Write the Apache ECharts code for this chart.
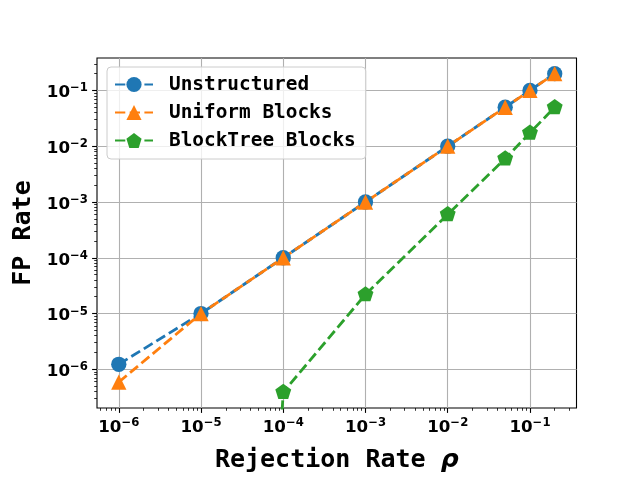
<!DOCTYPE html>
<html>
<head>
<meta charset="utf-8">
<script src="https://cdn.jsdelivr.net/npm/echarts@6/dist/echarts.min.js"></script>
<style>html,body{margin:0;padding:0;background:#fff;}#c{width:640px;height:480px;}</style>
</head>
<body>
<div id="c"></div>
<script>
// ---- data ----
const seriesNames = ['Unstructured', 'Uniform Blocks', 'BlockTree Blocks'];
const rhoUnstructured = [1e-6, 1e-5, 1e-4, 1e-3, 1e-2, 0.05, 0.1, 0.2];
const fpUnstructured  = [1.23e-6, 1e-5, 1e-4, 1e-3, 1e-2, 0.05, 0.1, 0.2];
const rhoUniform = [1e-6, 1e-5, 1e-4, 1e-3, 1e-2, 0.05, 0.1, 0.2];
const fpUniform  = [5.9e-7, 1e-5, 1e-4, 1e-3, 1e-2, 0.05, 0.1, 0.2];
const rhoBlockTree = [1e-6, 1e-5, 1e-4, 1e-3, 1e-2, 0.05, 0.1, 0.2];
const fpBlockTree  = [0, 0, 3.9e-7, 2.2e-5, 6.0e-4, 6.0e-3, 1.74e-2, 5.0e-2];
const xTickValues = [1e-6, 1e-5, 1e-4, 1e-3, 1e-2, 1e-1];
const yTickValues = [1e-6, 1e-5, 1e-4, 1e-3, 1e-2, 1e-1];
const xTitle = 'Rejection Rate ';
const xTitleSymbol = 'ρ';
const yTitle = 'FP Rate';

// ---- helpers ----
const colors = ['#1f77b4', '#ff7f0e', '#2ca02c'];
const xMin = Math.pow(10, -6.265), xMax = Math.pow(10, -0.434);
const yMin = Math.pow(10, -6.694), yMax = Math.pow(10, -0.418);
function pairs(xs, ys) {
  // non-positive values are clipped to a tiny value (like a log plot with nonpositive='clip')
  return xs.map((x, i) => [x, ys[i] > 0 ? ys[i] : 1e-30]);
}
function minorTicks(lo, hi) {
  const out = [];
  for (let e = -8; e <= 1; e++) {
    for (let k = 2; k <= 9; k++) {
      const v = k * Math.pow(10, e);
      if (v > lo && v < hi) out.push(v);
    }
  }
  return out;
}
function powLabel(v) {
  const e = Math.round(Math.log10(v));
  return '{b|10}{s|' + (e < 0 ? '\u2212' : '') + Math.abs(e) + '}';
}
const labelRich = {
  b: { fontFamily: 'DejaVu Sans', fontWeight: 'bold', fontSize: 16.7, color: '#000', lineHeight: 22, verticalAlign: 'bottom' },
  s: { fontFamily: 'DejaVu Sans', fontWeight: 'bold', fontSize: 11.7, color: '#000', lineHeight: 22, verticalAlign: 'bottom', padding: [0, 0, 7, 0] }
};
const mono = 'DejaVu Sans Mono';
const pentagon = 'path://M0,-1 L0.951,-0.309 L0.588,0.809 L-0.588,0.809 L-0.951,-0.309 Z';
const dash = [10.3, 4.4];

const chart = echarts.init(document.getElementById('c'), null, { renderer: 'canvas' });
const option = {
  animation: false,
  backgroundColor: '#fff',
  grid: { left: 97, top: 58, right: 63.5, bottom: 72, show: true, borderColor: '#000', borderWidth: 1.1, backgroundColor: 'transparent' },
  legend: {
    data: seriesNames,
    orient: 'vertical',
    left: 107, top: 67,
    itemWidth: 38, itemHeight: 19, itemGap: 9,
    padding: [8, 10, 9, 7],
    backgroundColor: 'rgba(255,255,255,0.8)',
    borderColor: '#cccccc', borderWidth: 1, borderRadius: 4,
    textStyle: { fontFamily: mono, fontWeight: 'bold', fontSize: 19.4, color: '#000', padding: [0, 0, 0, 11] }
  },
  xAxis: [{
    type: 'log', logBase: 10, min: xMin, max: xMax,
    name: xTitle + '{r|' + xTitleSymbol + '}', nameLocation: 'middle', nameGap: 40,
    nameTextStyle: { fontFamily: mono, fontWeight: 'bold', fontSize: 25, color: '#000',
      rich: { r: { fontFamily: 'DejaVu Sans', fontWeight: 'bold', fontStyle: 'italic', fontSize: 25, color: '#000' } } },
    axisLine: { show: false },
    axisTick: { show: true, length: 4.9, lineStyle: { color: '#000', width: 1.1 }, customValues: xTickValues },
    axisLabel: { customValues: xTickValues, formatter: powLabel, rich: labelRich, margin: 6 },
    splitLine: { show: true, lineStyle: { color: '#b0b0b0', width: 1.1 } },
    minorTick: { show: false }
  }, {
    type: 'log', logBase: 10, min: xMin, max: xMax, position: 'bottom',
    axisLine: { show: false },
    axisTick: { show: true, length: 2.8, lineStyle: { color: '#000', width: 0.8 }, customValues: minorTicks(xMin, xMax) },
    axisLabel: { show: false },
    splitLine: { show: false }
  }],
  yAxis: [{
    type: 'log', logBase: 10, min: yMin, max: yMax,
    name: yTitle, nameLocation: 'middle', nameGap: 57,
    nameTextStyle: { fontFamily: mono, fontWeight: 'bold', fontSize: 25, color: '#000' },
    axisLine: { show: false },
    axisTick: { show: true, length: 4.9, lineStyle: { color: '#000', width: 1.1 }, customValues: yTickValues },
    axisLabel: { customValues: yTickValues, formatter: powLabel, rich: labelRich, margin: 9 },
    splitLine: { show: true, lineStyle: { color: '#b0b0b0', width: 1.1 } }
  }, {
    type: 'log', logBase: 10, min: yMin, max: yMax, position: 'left',
    axisLine: { show: false },
    axisTick: { show: true, length: 2.8, lineStyle: { color: '#000', width: 0.8 }, customValues: minorTicks(yMin, yMax) },
    axisLabel: { show: false },
    splitLine: { show: false }
  }],
  series: [{
    name: seriesNames[0], type: 'line', data: pairs(rhoUnstructured, fpUnstructured),
    symbol: 'circle', symbolSize: 15.3, color: colors[0],
    itemStyle: { color: colors[0] },
    lineStyle: { color: colors[0], width: 2.8, type: dash }, clip: true
  }, {
    name: seriesNames[1], type: 'line', data: pairs(rhoUniform, fpUniform),
    symbol: 'triangle', symbolSize: 15.3, color: colors[1],
    itemStyle: { color: colors[1] },
    lineStyle: { color: colors[1], width: 2.8, type: dash }, clip: true
  }, {
    name: seriesNames[2], type: 'line', data: pairs(rhoBlockTree, fpBlockTree),
    symbol: pentagon, symbolSize: [15.9, 15.2], symbolOffset: [0, -0.7], color: colors[2],
    itemStyle: { color: colors[2] },
    lineStyle: { color: colors[2], width: 2.8, type: dash }, clip: true
  }]
};
chart.setOption(option);
</script>
</body>
</html>
